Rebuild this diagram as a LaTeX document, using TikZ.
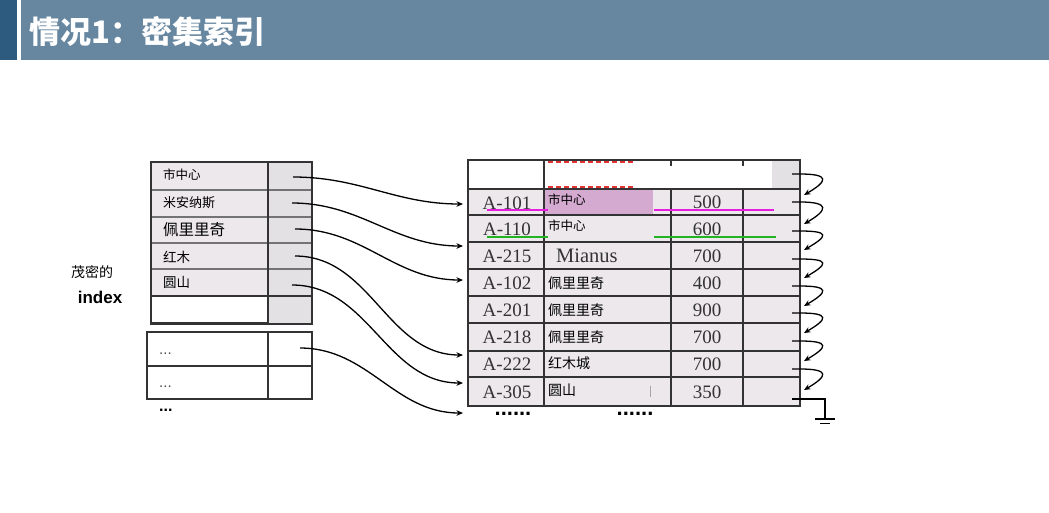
\documentclass[tikz,border=0pt]{standalone}
\usepackage{fontspec}
\setmainfont{Liberation Serif}
\setsansfont{Liberation Sans}
\newfontfamily\cjk{Noto Sans CJK SC}
\usetikzlibrary{arrows.meta}

\definecolor{barblue}{HTML}{6787A1}
\definecolor{stripblue}{HTML}{2D5B80}
\definecolor{cellgray}{HTML}{ECE8EC}
\definecolor{ptrgray}{HTML}{E4E1E4}
\definecolor{inkgray}{HTML}{333333}
\definecolor{lilac}{HTML}{D4AAD0}
\definecolor{hlmag}{HTML}{E81CE0}
\definecolor{hlgreen}{HTML}{22B422}
\definecolor{dashred}{HTML}{E03434}

\newcommand{\fsz}[1]{\fontsize{#1}{#1}\selectfont}

\tikzset{
  tbl/.style={draw=inkgray, line width=1.6pt},
  tblouter/.style={draw=inkgray, line width=2.2pt},
  idxrule/.style={draw=black!55, line width=1.5pt},
  ptr/.style={draw=black, line width=1.3pt, -{Stealth[length=6.5pt,width=5.5pt]}},
  idxtext/.style={anchor=west, inner sep=0pt, font=\cjk\fsz{13}},
  keytext/.style={inner sep=0pt, text=inkgray, font=\rmfamily\fsz{19}},
  cjktext/.style={anchor=west, inner sep=0pt, font=\cjk\fsz{13}},
  dotrow/.style={inner sep=0pt, font=\sffamily\bfseries\fsz{22}},
}

\begin{document}
\begin{tikzpicture}[x=1pt,y=-1pt]
\useasboundingbox (0,0) rectangle (1049,512);
\fill[white] (0,0) rectangle (1049,512);

% title bar
\fill[stripblue] (0,0) rectangle (17,60);
\fill[barblue] (21,0) rectangle (1049,60);
\node[anchor=west, inner sep=0pt, text=white, font=\cjk\bfseries\fsz{31}] (title) at (29,31) {情况1：密集索引};

% caption of the index
\node[inner sep=0pt, font=\cjk\fsz{14}] (cap1) at (92,272) {茂密的};
\node[inner sep=0pt, font=\sffamily\bfseries\fsz{17}] (cap2) at (100,297) {index};

% dense index block
\fill[cellgray] (151,162) rectangle (268,296);
\fill[ptrgray] (268,162) rectangle (312,324);
\foreach \y in {190,217,243,269} \draw[idxrule] (151,\y) -- (312,\y);
\draw[tbl] (151,296) -- (312,296);
\draw[tbl] (268,162) -- (268,324);
\draw[tblouter] (151,162) rectangle (312,324);
\draw[inkgray, line width=2.8pt] (151,323) -- (268,323);

\node[idxtext, font=\cjk\fsz{12.5}] (k1) at (163,175) {市中心};
\node[idxtext] (k2) at (163,203) {米安纳斯};
\node[idxtext, font=\cjk\fsz{15.5}] (k3) at (163,230) {佩里里奇};
\node[idxtext, font=\cjk\fsz{13.5}] (k4) at (163,257) {红木};
\node[idxtext, font=\cjk\fsz{13.5}] (k5) at (163,282) {圆山};

% next index block
\draw[tbl] (147,332) rectangle (312,399);
\draw[tbl] (147,366) -- (312,366);
\draw[tbl] (268,332) -- (268,399);
\node[anchor=west, inner sep=0pt, text=black!70, font=\sffamily\fsz{15}] (m1) at (159,354) {...};
\node[anchor=west, inner sep=0pt, text=black!70, font=\sffamily\fsz{15}] (m2) at (159,387) {...};
\node[anchor=west, inner sep=0pt, font=\sffamily\bfseries\fsz{16}] (m3) at (159,410) {...};

% data file
\fill[cellgray] (468,189) rectangle (800,406);
\fill[ptrgray] (772,160) rectangle (800,189);
\fill[lilac] (544,189) rectangle (653,215);
\foreach \y in {189,215,242,269,296,323,351,377} \draw[tbl] (468,\y) -- (800,\y);
\draw[tbl] (544,160) -- (544,406);
\draw[tbl] (671,189) -- (671,406);
\draw[tbl] (743,189) -- (743,406);
\draw[tbl] (671,160) -- (671,166);
\draw[tbl] (743,160) -- (743,166);
\draw[tblouter] (468,160) rectangle (800,406);

% deleted-record marks in the top row
\draw[dashred, line width=1.6pt, dash pattern=on 5pt off 3pt] (548,162) -- (634,162);
\draw[dashred, line width=1.6pt, dash pattern=on 5pt off 3pt] (548,187) -- (634,187);

% search key highlights
\draw[hlmag, line width=2.5pt] (487,210) -- (548,210);
\draw[hlmag, line width=2.5pt] (654,210) -- (774,210);
\draw[hlgreen, line width=2.5pt] (487,237) -- (548,237);
\draw[hlgreen, line width=2.5pt] (654,237) -- (776,237);

% records
\foreach \id/\y [count=\i] in {A-101/203,A-110/229,A-215/256,A-102/283,A-201/310,A-218/337,A-222/364,A-305/392}
  \node[keytext] (acc\i) at (507,\y) {\id};
\foreach \v/\y [count=\i] in {500/202,600/229,700/256,400/283,900/310,700/337,700/364,350/392}
  \node[keytext] (bal\i) at (707,\y) {\v};
\node[cjktext, font=\cjk\fsz{12.5}] (br1) at (548,200) {市中心};
\node[cjktext, font=\cjk\fsz{12.5}] (br2) at (548,226) {市中心};
\node[anchor=west, inner sep=0pt, text=inkgray, font=\rmfamily\fsz{20.5}] (br3) at (556,256) {Mianus};
\node[cjktext, font=\cjk\fsz{14}] (br4) at (548,283) {佩里里奇};
\node[cjktext, font=\cjk\fsz{14}] (br5) at (548,310) {佩里里奇};
\node[cjktext, font=\cjk\fsz{14}] (br6) at (548,337) {佩里里奇};
\node[cjktext, font=\cjk\fsz{14}] (br7) at (548,363) {红木城};
\node[cjktext, font=\cjk\fsz{14}] (br8) at (548,390) {圆山};
\draw[black!35, line width=1pt] (650,386) -- (650,397);

\node[dotrow] (more1) at (513,414) {......};
\node[dotrow] (more2) at (635,414) {......};

% pointers from the index to the records
\foreach \sx/\sy/\ey [count=\i] in {293/177/204,292/203/246,295/229/280,295/256/355,292/285/383,300/348/413} {
  \coordinate (ps\i) at (\sx,\sy);
  \coordinate (pe\i) at (463,\ey);
  \draw[ptr] (ps\i) to[out=0,in=180] (pe\i);
}

% record chain
\foreach \s/\t [count=\i] in {174/195,202/224,231/250,259/278,286/306,313/333,341/361,369/390} {
  \coordinate (cs\i) at (792,\s);
  \coordinate (ct\i) at (804,\t);
  \draw[ptr] (cs\i) -- (800,\s) .. controls (830,\s) and (828,\t-14) .. (ct\i);
}

% end of chain: ground
\coordinate (g0) at (792,399);
\coordinate (g1) at (825,419);
\draw[black, line width=1.3pt] (g0) -| (g1);
\draw[black, line width=1.4pt] (815,419) -- (835,419);
\draw[black, line width=1.4pt] (820,423.5) -- (830,423.5);
\end{tikzpicture}
\end{document}
